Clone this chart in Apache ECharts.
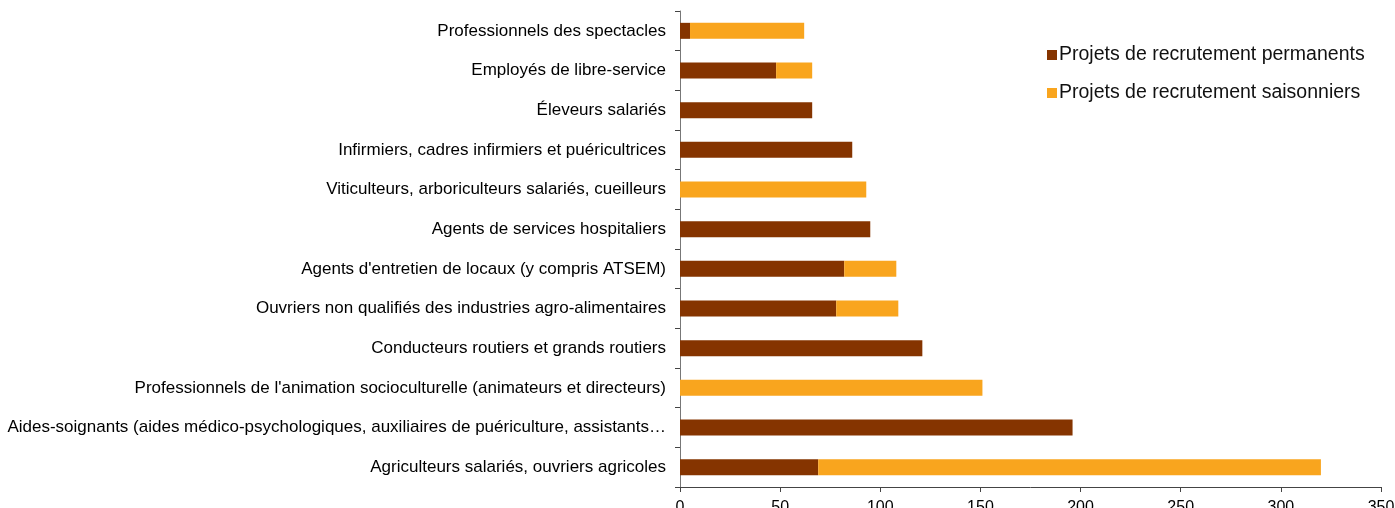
<!DOCTYPE html>
<html>
<head>
<meta charset="utf-8">
<script src="https://cdn.jsdelivr.net/npm/echarts@6/dist/echarts.min.js"></script>
<style>
  html, body { margin: 0; padding: 0; background: #fff; }
  #main { width: 1395px; height: 508px; }
</style>
</head>
<body>
<div id="main"></div>
<script>
var chart = echarts.init(document.getElementById('main'));

// categories, top to bottom
var metiers = [
  'Professionnels des spectacles',
  'Employés de libre-service',
  'Éleveurs salariés',
  'Infirmiers, cadres infirmiers et puéricultrices',
  'Viticulteurs, arboriculteurs salariés, cueilleurs',
  'Agents de services hospitaliers',
  "Agents d'entretien de locaux (y compris ATSEM)",
  'Ouvriers non qualifiés des industries agro-alimentaires',
  'Conducteurs routiers et grands routiers',
  "Professionnels de l'animation socioculturelle (animateurs et directeurs)",
  'Aides-soignants (aides médico-psychologiques, auxiliaires de puériculture, assistants…',
  'Agriculteurs salariés, ouvriers agricoles'
];
var permanents = [5, 48, 66, 86, 0, 95, 82, 78, 121, 0, 196, 69];
var saisonniers = [57, 18, 0, 0, 93, 0, 26, 31, 0, 151, 0, 251];

var xTicks = { min: 0, max: 350, interval: 50 };

chart.setOption({
  animation: false,
  textStyle: { fontFamily: 'Liberation Sans, Arial, sans-serif' },
  legend: {
    orient: 'vertical',
    left: 1042,
    top: 40,
    itemWidth: 10,
    itemHeight: 10,
    itemGap: 18,
    icon: 'rect',
    textStyle: { fontSize: 19.5, color: '#111', padding: [0, 0, 0, -3] },
    data: ['Projets de recrutement permanents', 'Projets de recrutement saisonniers']
  },
  grid: {
    left: 680,
    right: 14,
    top: 11,
    bottom: 21,
    containLabel: false,
    outerBoundsMode: 'none'
  },
  xAxis: {
    type: 'value',
    min: xTicks.min,
    max: xTicks.max,
    interval: xTicks.interval,
    splitLine: { show: false },
    axisLine: { show: true, lineStyle: { color: '#444' } },
    axisTick: { show: true, length: 5, lineStyle: { color: '#444' } },
    axisLabel: { fontSize: 16, color: '#000', margin: 13 }
  },
  yAxis: {
    type: 'category',
    inverse: true,
    data: metiers,
    axisLine: { show: true, lineStyle: { color: '#777' } },
    axisTick: { show: true, length: 5, lineStyle: { color: '#444' } },
    axisLabel: { fontSize: 17, color: '#000', margin: 14 }
  },
  series: [
    {
      name: 'Projets de recrutement permanents',
      type: 'bar',
      stack: 'total',
      barWidth: 16,
      itemStyle: { color: '#853400' },
      data: permanents
    },
    {
      name: 'Projets de recrutement saisonniers',
      type: 'bar',
      stack: 'total',
      barWidth: 16,
      itemStyle: { color: '#F9A51E' },
      data: saisonniers
    }
  ]
});
</script>
</body>
</html>
